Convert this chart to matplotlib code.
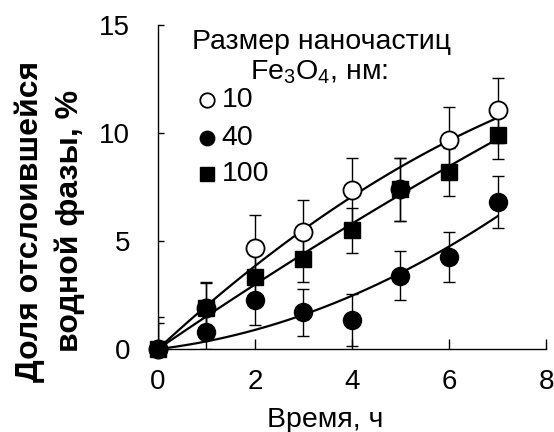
import numpy as np
import matplotlib.pyplot as plt

plt.rcParams['font.family'] = ['Liberation Sans', 'DejaVu Sans']

# время, ч
t = [0, 1, 2, 3, 4, 5, 6, 7]
# доля отслоившейся водной фазы, % (размер частиц 10, 40, 100 нм)
y10 = [0, 1.9, 4.7, 5.4, 7.35, 7.4, 9.7, 11.05]
e10 = [1.5, 1.2, 1.5, 1.5, 1.5, 1.45, 1.5, 1.5]
y40 = [0, 0.8, 2.25, 1.7, 1.35, 3.4, 4.25, 6.8]
e40 = [0, 0.8, 1.15, 1.1, 1.2, 1.15, 1.15, 1.2]
y100 = [0, 1.9, 3.35, 4.15, 5.5, 7.4, 8.2, 9.9]
e100 = [1.2, 1.15, 1.1, 1.05, 1.05, 1.45, 1.1, 1.1]
sizes = ['10', '40', '100']


def trend(x, y):
    # полиномиальный тренд 2-й степени через начало координат
    x = np.array(x, float)
    A = np.column_stack([x, x**2])
    c = np.linalg.lstsq(A, np.array(y, float), rcond=None)[0]
    xs = np.linspace(0, x.max(), 100)
    return xs, c[0]*xs + c[1]*xs**2


fig = plt.figure(figsize=(5.54, 4.32), dpi=100)
ax = fig.add_axes([0.285, 0.192, 0.7006, 0.75])

styles = [
    (y10, e10, dict(marker='o', mfc='white', mec='black', ms=13, mew=1.3)),
    (y100, e100, dict(marker='s', mfc='black', mec='black', ms=12)),
    (y40, e40, dict(marker='o', mfc='black', mec='black', ms=13)),
]

for y, e, st in styles:
    ax.errorbar(t, y, yerr=e, fmt='none', ecolor='black', elinewidth=1.0,
                capsize=4.5, capthick=1.0, zorder=2)
for y, e, st in styles:
    xs, ys = trend(t, y)
    ax.plot(xs, ys, color='black', lw=1.6, zorder=3, clip_on=False)
for i, (y, e, st) in enumerate(styles):
    ax.plot(t, y, ls='none', zorder=4 + i, clip_on=False, **st)

ax.set_xlim(0, 8)
ax.set_ylim(0, 15)
ax.set_xticks([0, 2, 4, 6, 8])
ax.set_yticks([0, 5, 10, 15])
ax.spines['top'].set_visible(False)
ax.spines['right'].set_visible(False)
for s in ['left', 'bottom']:
    ax.spines[s].set_linewidth(1.0)
ax.tick_params(axis='x', direction='in', length=7, width=1.0, pad=14, labelsize=20)
ax.tick_params(axis='y', direction='in', length=4.5, width=1.0, pad=20, labelsize=20)

ax.set_xlabel('Время, ч', fontsize=20.5)
ax.xaxis.set_label_coords(0.43, -0.18)
fig.text(0.054, 0.488, 'Доля отслоившейся', rotation=90, fontsize=23,
         fontweight='bold', ha='center', va='center')
fig.text(0.126, 0.488, 'водной фазы, %', rotation=90, fontsize=23,
         fontweight='bold', ha='center', va='center')

# легенда
fig.text(0.581, 0.903, 'Размер наночастиц', fontsize=20.5, ha='center', va='center')
fig.text(0.576, 0.833, 'Fe$_\\mathregular{3}$O$_\\mathregular{4}$, нм:', fontsize=20.5,
         ha='center', va='center')
leg_y = [0.769, 0.681, 0.597]
for (y, e, st), ly, lab in zip([styles[0], styles[2], styles[1]], leg_y, sizes):
    st2 = dict(st)
    st2['ms'] = st['ms'] * 0.8
    fig.lines.append(plt.Line2D([0.374], [ly], transform=fig.transFigure, **st2))
    fig.text(0.40, ly, lab, fontsize=20.5, ha='left', va='center')

fig.savefig('out.png', dpi=100)
